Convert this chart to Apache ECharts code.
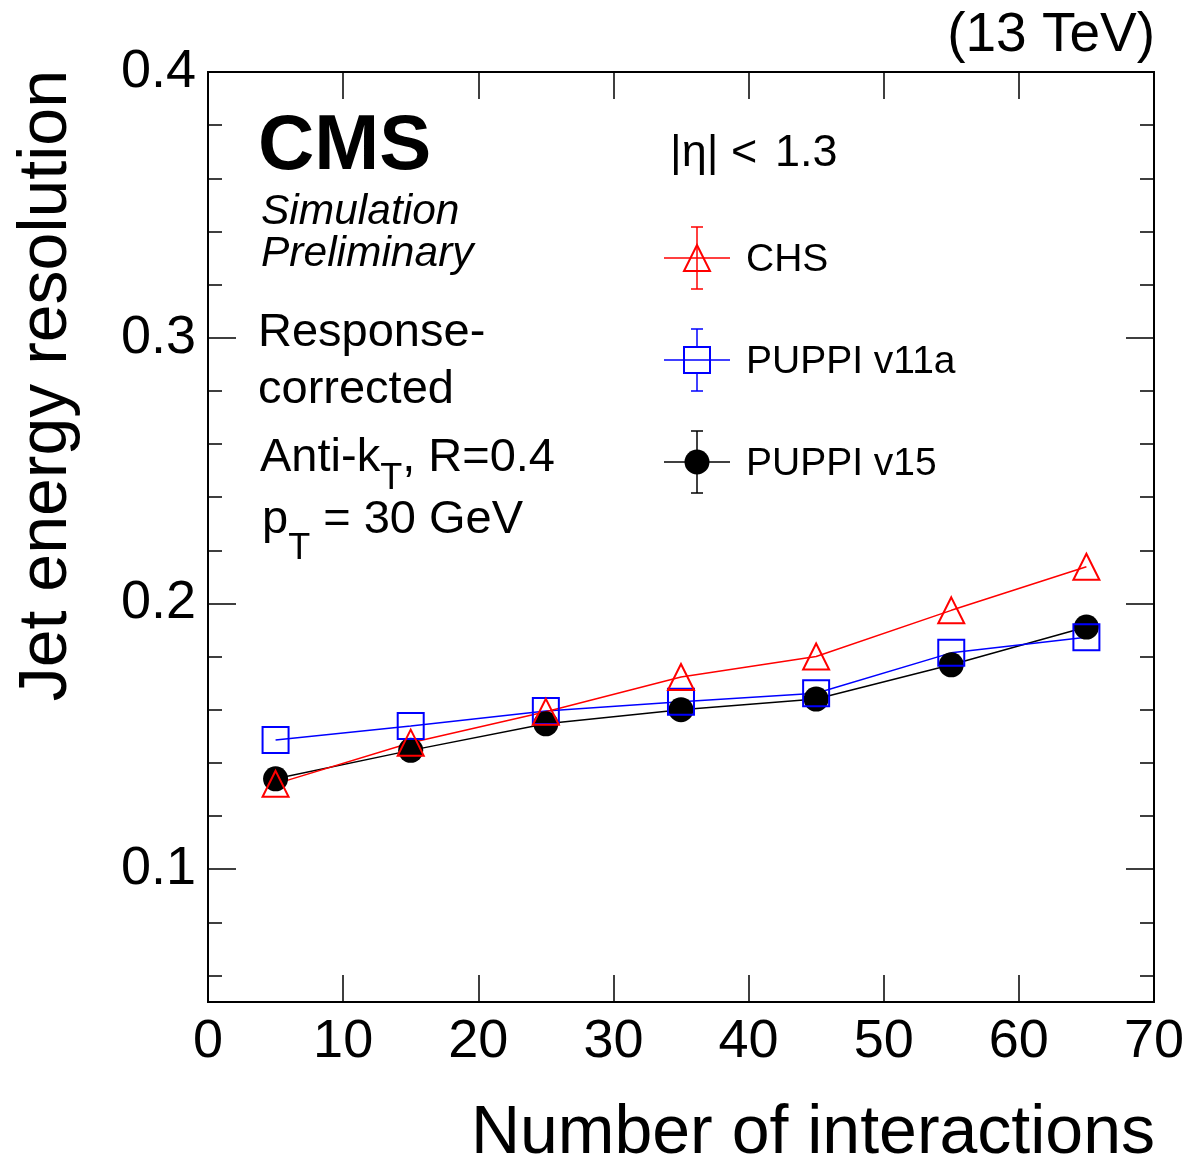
<!DOCTYPE html>
<html>
<head>
<meta charset="utf-8">
<script src="https://cdn.jsdelivr.net/npm/echarts@6/dist/echarts.min.js"></script>
<style>
  html, body { margin: 0; padding: 0; background: #fff; }
  #chart { width: 1187px; height: 1163px; }
</style>
</head>
<body>
<div id="chart"></div>
<script>
// Number of pile-up interactions (bin centres)
const nInteractions = [5, 15, 25, 35, 45, 55, 65];
// Jet energy resolution per pile-up bin
const resCHS = [0.1321, 0.1476, 0.1592, 0.1723, 0.1800, 0.1974, 0.2138];
const resPuppiV11a = [0.1486, 0.1539, 0.1595, 0.1630, 0.1662, 0.1814, 0.1873];
const resPuppiV15 = [0.1340, 0.1447, 0.1547, 0.1600, 0.1640, 0.1769, 0.1911];
// Axis ticks
const yMajorTicks = [0.1, 0.2, 0.3, 0.4];
const yMinorTicks = [0.06, 0.08, 0.12, 0.14, 0.16, 0.18, 0.22, 0.24, 0.26, 0.28, 0.32, 0.34, 0.36, 0.38];
const seriesNames = ['CHS', 'PUPPI v11a', 'PUPPI v15'];

const FONT = "'Liberation Sans', Arial, Helvetica, sans-serif";
const BLACK = '#000000';
const RED = '#ff0000';
const BLUE = '#0000ff';

const measureCtx = document.createElement('canvas').getContext('2d');
function textWidth(str, size, weight, style) {
  measureCtx.font = (style || 'normal') + ' ' + (weight || 'normal') + ' ' + size + 'px ' + FONT;
  return measureCtx.measureText(str).width;
}

function txt(x, y, text, size, opts) {
  opts = opts || {};
  return {
    type: 'text', x: x, y: y, silent: true,
    rotation: opts.rotation || 0,
    style: {
      text: text, fill: BLACK,
      fontFamily: FONT, fontSize: size,
      fontWeight: opts.weight || 'normal',
      fontStyle: opts.style || 'normal',
      align: opts.align || 'left',
      verticalAlign: 'middle'
    }
  };
}

function pair(pts) { return nInteractions.map((x, i) => [x, pts[i]]); }

const chart = echarts.init(document.getElementById('chart'), null, { renderer: 'canvas' });

// Text blocks with subscripts
const subText = [];
(function () {
  const s = 47, sub = 36;
  let x = 260;
  subText.push(txt(x, 458, 'Anti-k', s));
  x += textWidth('Anti-k', s);
  subText.push(txt(x, 479, 'T', sub));
  x += textWidth('T', sub);
  subText.push(txt(x, 458, ', R=0.4', s));

  x = 262;
  subText.push(txt(x, 520, 'p', s));
  x += textWidth('p', s);
  subText.push(txt(x, 549, 'T', sub));
  x += textWidth('T', sub);
  subText.push(txt(x, 520, ' = 30 GeV', s));
})();

// Legend entries with marker and error bar
function legendEntry(cy, color, kind, label) {
  const cx = 697, els = [];
  const ls = { stroke: color, lineWidth: 1.5 };
  els.push({ type: 'line', silent: true, shape: { x1: 664, y1: cy, x2: 730, y2: cy }, style: ls });
  els.push({ type: 'line', silent: true, shape: { x1: cx, y1: cy - 31, x2: cx, y2: cy + 31 }, style: ls });
  els.push({ type: 'line', silent: true, shape: { x1: cx - 6, y1: cy - 31, x2: cx + 6, y2: cy - 31 }, style: ls });
  els.push({ type: 'line', silent: true, shape: { x1: cx - 6, y1: cy + 31, x2: cx + 6, y2: cy + 31 }, style: ls });
  if (kind === 'triangle') {
    els.push({ type: 'polygon', silent: true, shape: { points: [[cx - 13, cy + 13], [cx + 13, cy + 13], [cx, cy - 13]] }, style: { fill: '#fff', stroke: color, lineWidth: 2 } });
    els.push({ type: 'line', silent: true, shape: { x1: cx - 6, y1: cy, x2: cx + 6, y2: cy }, style: ls });
    els.push({ type: 'line', silent: true, shape: { x1: cx, y1: cy - 13, x2: cx, y2: cy + 13 }, style: ls });
  } else if (kind === 'rect') {
    els.push({ type: 'rect', silent: true, shape: { x: cx - 13, y: cy - 13, width: 26, height: 26 }, style: { fill: '#fff', stroke: color, lineWidth: 2 } });
    els.push({ type: 'line', silent: true, shape: { x1: cx - 13, y1: cy, x2: cx + 13, y2: cy }, style: ls });
  } else {
    els.push({ type: 'circle', silent: true, shape: { cx: cx, cy: cy, r: 12.5 }, style: { fill: color } });
  }
  els.push(txt(746, cy + 2, label, 39));
  return els;
}

const graphics = [].concat(
  [
    txt(1155, 36, '(13 TeV)', 55, { align: 'right' }),
    txt(1155, 1134, 'Number of interactions', 68, { align: 'right' }),
    txt(47, 70, 'Jet energy resolution', 68, { align: 'right', rotation: Math.PI / 2 }),
    txt(258, 147, 'CMS', 78, { weight: 'bold' }),
    txt(261, 212, 'Simulation', 42.5, { style: 'italic' }),
    txt(261, 254, 'Preliminary', 42.5, { style: 'italic' }),
    txt(258, 333, 'Response-', 47),
    txt(258, 390, 'corrected', 47),
    txt(670, 154, '|η|', 45),
    txt(731, 154, '<', 45),
    txt(775, 154, '1.3', 45)
  ],
  subText,
  legendEntry(258, RED, 'triangle', seriesNames[0]),
  legendEntry(360, BLUE, 'rect', seriesNames[1]),
  legendEntry(462, BLACK, 'circle', seriesNames[2])
);

const axisLineStyle = { show: true, lineStyle: { color: BLACK, width: 2 } };
const tickStyle = { color: BLACK, width: 1.5 };

function yAxisCfg(position, ticks, length, labels) {
  return {
    type: 'value', min: 0.05, max: 0.4, position: position,
    axisLine: axisLineStyle,
    axisTick: { show: true, inside: true, length: length, customValues: ticks, lineStyle: tickStyle },
    axisLabel: labels ? {
      show: true, customValues: yMajorTicks, margin: 12, color: BLACK,
      fontFamily: FONT, fontSize: 54, formatter: v => v.toFixed(1)
    } : { show: false },
    splitLine: { show: false }
  };
}

function xAxisCfg(position, labels) {
  return {
    type: 'value', min: 0, max: 70, interval: 10, position: position,
    axisLine: axisLineStyle,
    axisTick: { show: true, inside: true, length: 27, lineStyle: tickStyle },
    axisLabel: labels ? { show: true, margin: 13, color: BLACK, fontFamily: FONT, fontSize: 54 } : { show: false },
    splitLine: { show: false }
  };
}

function lineSeries(name, data, color, symbol, size, hollow) {
  return {
    type: 'line', name: name, data: pair(data),
    xAxisIndex: 0, yAxisIndex: 0,
    symbol: symbol, symbolSize: size,
    showAllSymbol: true,
    lineStyle: { color: color, width: 1.5 },
    itemStyle: hollow
      ? { color: 'rgba(0,0,0,0)', borderColor: color, borderWidth: 2 }
      : { color: color, borderWidth: 0 },
    emphasis: { disabled: true },
    animation: false
  };
}

chart.setOption({
  animation: false,
  backgroundColor: '#ffffff',
  grid: { left: 208, right: 32, top: 72, bottom: 161, containLabel: false },
  xAxis: [xAxisCfg('bottom', true), xAxisCfg('top', false)],
  yAxis: [
    yAxisCfg('left', yMajorTicks, 28, true),
    yAxisCfg('left', yMinorTicks, 14, false),
    yAxisCfg('right', yMajorTicks, 28, false),
    yAxisCfg('right', yMinorTicks, 14, false)
  ],
  series: [
    lineSeries(seriesNames[2], resPuppiV15, BLACK, 'circle', 25, false),
    lineSeries(seriesNames[1], resPuppiV11a, BLUE, 'rect', 26, true),
    lineSeries(seriesNames[0], resCHS, RED, 'triangle', 26, true)
  ],
  graphic: graphics
});
</script>
</body>
</html>
